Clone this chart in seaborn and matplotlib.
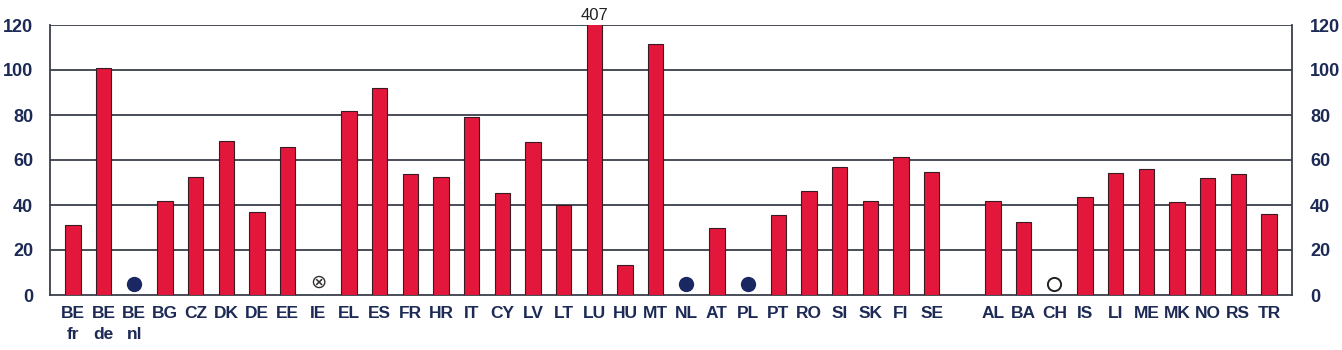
import numpy as np
import pandas as pd
import matplotlib
matplotlib.use("Agg")
import matplotlib.pyplot as plt
import seaborn as sns

# ---- data ----
categories = ["BE\nfr", "BE\nde", "BE\nnl", "BG", "CZ", "DK", "DE", "EE", "IE", "EL",
              "ES", "FR", "HR", "IT", "CY", "LV", "LT", "LU", "HU", "MT",
              "NL", "AT", "PL", "PT", "RO", "SI", "SK", "FI", "SE", " ",
              "AL", "BA", "CH", "IS", "LI", "ME", "MK", "NO", "RS", "TR"]
values = [31, 101, np.nan, 42, 52.3, 68.5, 37, 65.8, np.nan, 82,
          92, 54, 52.5, 79, 45.3, 68, 40.2, 407, 13.2, 111.7,
          np.nan, 30, np.nan, 35.5, 46.2, 57, 42, 61.5, 54.8, np.nan,
          42, 32.5, np.nan, 43.7, 54.3, 56, 41.2, 52, 54, 35.8]
filled_dot_cats = ["BE\nnl", "NL", "PL"]
crossed_cats = ["IE"]
open_dot_cats = ["CH"]
yticks = [0, 20, 40, 60, 80, 100, 120]

# ---- style ----
RED = "#E3173B"
NAVY = "#1B2763"
TXT = "#1C2A55"
YMAX = 120
MARK_Y = 5

sns.set_theme(style="white")
plt.rcParams["font.family"] = ["Liberation Sans", "DejaVu Sans"]

df = pd.DataFrame({"cat": categories, "val": values})

fig = plt.figure(figsize=(13.42, 3.5), dpi=100)
ax = fig.add_axes([50 / 1342, 55 / 350, 1242 / 1342, 270 / 350])

sns.barplot(data=df, x="cat", y="val", order=categories, color=RED,
            width=0.5, saturation=1, edgecolor="#3a1a22", linewidth=0.8,
            ax=ax, zorder=3)

ax.set_ylim(0, YMAX)
ax.set_xlim(-0.75, len(categories) - 0.25)
ax.set_yticks(yticks)
for y in yticks[1:]:
    ax.axhline(y, color="#3a3f4a", lw=1.3, zorder=1)

# markers for missing entries
pos = {c: i for i, c in enumerate(categories)}
ax.scatter([pos[c] for c in filled_dot_cats], [MARK_Y] * len(filled_dot_cats),
           s=100, marker="o", color=NAVY, zorder=4)
ax.scatter([pos[c] for c in open_dot_cats], [MARK_Y] * len(open_dot_cats),
           s=90, marker="o", facecolor="white", edgecolor="#222", linewidth=1.4, zorder=4)
for c in crossed_cats:
    ax.text(pos[c], MARK_Y + 0.8, "\u2297", ha="center", va="center", fontsize=14,
            color="#333", family="DejaVu Sans", zorder=4)

# value label for clipped bar
lu_idx = int(np.nanargmax(values))
ax.text(lu_idx, YMAX + 1, f"{int(values[lu_idx])}", ha="center", va="bottom",
        fontsize=12, color="#222", clip_on=False)

ax.set_xlabel("")
ax.set_ylabel("")
ax.tick_params(axis="x", length=0, pad=8, labelsize=12.5, labelcolor=TXT)
ax.tick_params(axis="y", length=0, pad=12, labelsize=13, labelcolor=TXT)
for lbl in ax.get_xticklabels():
    lbl.set_fontweight("bold")
    lbl.set_linespacing(1.45)
for lbl in ax.get_yticklabels():
    lbl.set_fontweight("bold")

for s in ["left", "right", "bottom"]:
    ax.spines[s].set_visible(True)
    ax.spines[s].set_color("#3a3f4a")
    ax.spines[s].set_linewidth(1.3)
ax.spines["top"].set_visible(False)

ax2 = ax.twinx()
ax2.set_ylim(0, YMAX)
ax2.set_yticks(yticks)
ax2.tick_params(axis="y", length=0, pad=13, labelsize=13, labelcolor=TXT)
for lbl in ax2.get_yticklabels():
    lbl.set_fontweight("bold")
for s in ax2.spines.values():
    s.set_visible(False)
ax2.grid(False)

fig.savefig("out.png", dpi=100, facecolor="white")
